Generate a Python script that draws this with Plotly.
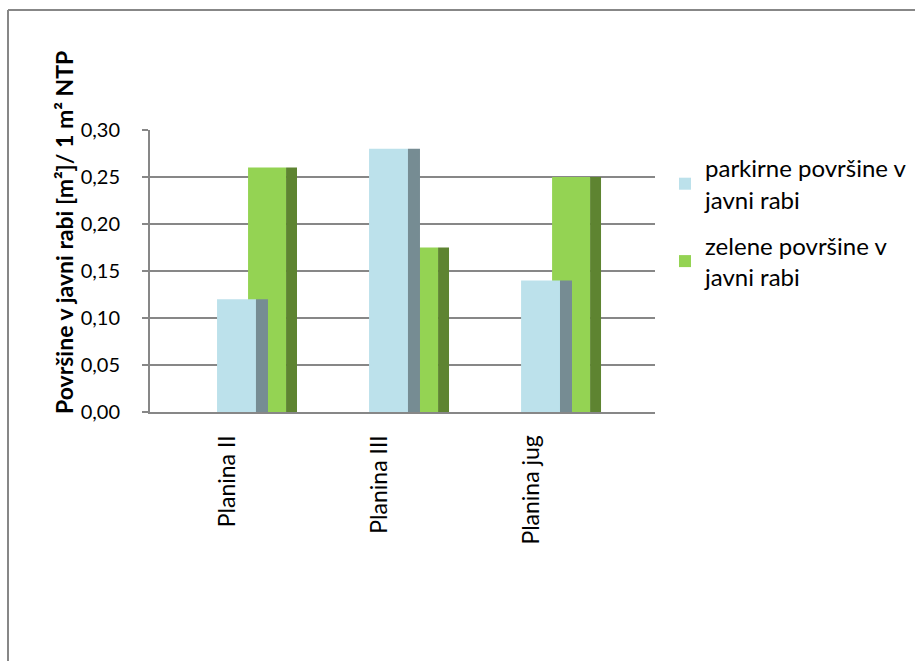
import plotly.graph_objects as go

categories = ["Planina II", "Planina III", "Planina jug"]
parkirne = [0.12, 0.28, 0.14]
zelene = [0.26, 0.175, 0.25]
series_names = ["parkirne površine v<br>javni rabi", "zelene površine v<br>javni rabi"]
y_ticks = [0.0, 0.05, 0.10, 0.15, 0.20, 0.25, 0.30]
y_title = "<b>Površine v javni rabi [m²]/ 1 m² NTP</b>"

BLUE_FRONT = "#BCE1EB"
BLUE_SIDE = "#768C93"
GREEN_FRONT = "#94D353"
GREEN_SIDE = "#5E8431"
GRID = "#878787"
FONT = "Lato"

fig = go.Figure()

# green (back row)
fig.add_trace(go.Bar(x=categories, y=zelene, offset=0.132, width=0.25,
                     marker=dict(color=GREEN_FRONT, line=dict(width=0)),
                     name=series_names[1], legendrank=2, legendgroup="g"))
fig.add_trace(go.Bar(x=categories, y=zelene, offset=0.382, width=0.072,
                     marker=dict(color=GREEN_SIDE, line=dict(width=0)),
                     showlegend=False, legendgroup="g", legendrank=2,
                     hoverinfo="skip"))
# blue (front row)
fig.add_trace(go.Bar(x=categories, y=parkirne, offset=-0.072, width=0.257,
                     marker=dict(color=BLUE_FRONT, line=dict(width=0)),
                     name=series_names[0], legendrank=1, legendgroup="b"))
fig.add_trace(go.Bar(x=categories, y=parkirne, offset=0.184, width=0.079,
                     marker=dict(color=BLUE_SIDE, line=dict(width=0)),
                     showlegend=False, legendgroup="b", legendrank=1,
                     hoverinfo="skip"))

L, R, T, B = 150, 260, 130, 249
W, H = 915, 661
pw, ph = W - L - R, H - T - B

def px_x(x):
    return (x - L) / pw

def px_y(y):
    return (H - B - y) / ph

fig.update_layout(
    width=W, height=H,
    margin=dict(l=L, r=R, t=T, b=B, autoexpand=False),
    paper_bgcolor="white", plot_bgcolor="white",
    barmode="overlay",
    separators=", ",
    font=dict(family=FONT, color="#000000", size=23),
    showlegend=True,
    legend=dict(x=px_x(665), y=px_y(146), xanchor="left", yanchor="top",
                font=dict(family=FONT, size=24, color="#000000"),
                bgcolor="rgba(0,0,0,0)", tracegroupgap=12,
                traceorder="grouped"),
    xaxis=dict(type="category", range=[-0.513, 2.809],
               showgrid=False, showline=True, linecolor=GRID, linewidth=2,
               ticks="", tickangle=-90, ticklabelstandoff=12,
               tickfont=dict(family=FONT, size=23), zeroline=False),
    yaxis=dict(range=[0, 0.30], tickvals=y_ticks, tickformat=".2f",
               showgrid=True, gridcolor=GRID, gridwidth=2,
               showline=True, linecolor=GRID, linewidth=2,
               ticks="outside", ticklen=6, tickcolor=GRID, tickwidth=2,
               ticklabelstandoff=18,
               tickfont=dict(family=FONT, size=20), zeroline=False),
    annotations=[
        dict(text=y_title, xref="paper", yref="paper",
             x=px_x(64), y=px_y(233), xanchor="center", yanchor="middle",
             textangle=-90, showarrow=False,
             font=dict(family=FONT, size=23, color="#000000")),
    ],
    shapes=[
        dict(type="line", xref="paper", yref="paper",
             x0=px_x(8), x1=px_x(920), y0=px_y(10), y1=px_y(10),
             line=dict(color="#878787", width=2)),
        dict(type="line", xref="paper", yref="paper",
             x0=px_x(8), x1=px_x(8), y0=px_y(10), y1=px_y(670),
             line=dict(color="#878787", width=2)),
    ],
)

fig.write_html("out.html")
